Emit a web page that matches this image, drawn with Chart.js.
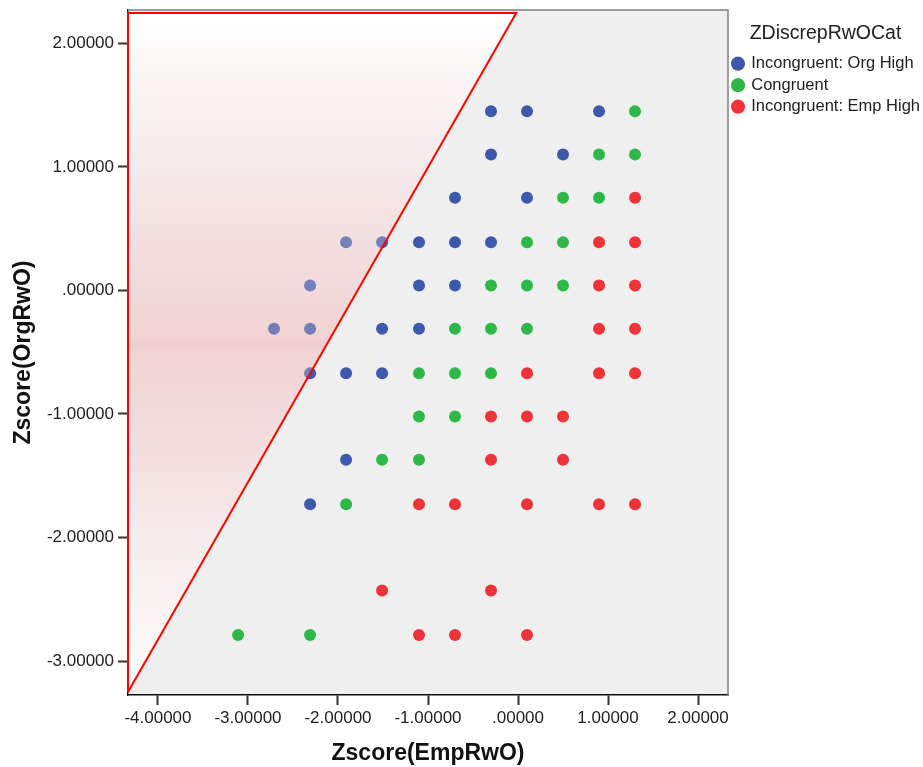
<!DOCTYPE html>
<html>
<head>
<meta charset="utf-8">
<script src="https://cdn.jsdelivr.net/npm/chart.js@4.4.1/dist/chart.umd.min.js"></script>
<style>
  html, body { margin: 0; padding: 0; background: #fff; }
  #wrap { width: 923px; height: 767px; position: relative; }
</style>
</head>
<body>
<div id="wrap"><canvas id="zChart"></canvas></div>
<script>
// Zscore(EmpRwO) on x, Zscore(OrgRwO) on y, one pair of arrays per category
const orgHighX = [-0.30, 0.10, 0.90, -0.30, 0.50, -0.70, 0.10,
  -1.91, -1.51, -1.10, -0.70, -0.30, -2.31, -1.10, -0.70,
  -2.71, -2.31, -1.51, -1.10, -2.31, -1.91, -1.51, -1.91, -2.31];
const orgHighY = [1.45, 1.45, 1.45, 1.10, 1.10, 0.75, 0.75,
  0.39, 0.39, 0.39, 0.39, 0.39, 0.04, 0.04, 0.04,
  -0.31, -0.31, -0.31, -0.31, -0.67, -0.67, -0.67, -1.37, -1.73];

const congruentX = [1.30, 0.90, 1.30, 0.50, 0.90, 0.10, 0.50,
  -0.30, 0.10, 0.50, -0.70, -0.30, 0.10, -1.10, -0.70, -0.30,
  -1.10, -0.70, -1.51, -1.10, -1.91, -3.11, -2.31];
const congruentY = [1.45, 1.10, 1.10, 0.75, 0.75, 0.39, 0.39,
  0.04, 0.04, 0.04, -0.31, -0.31, -0.31, -0.67, -0.67, -0.67,
  -1.02, -1.02, -1.37, -1.37, -1.73, -2.79, -2.79];

const empHighX = [1.30, 0.90, 1.30, 0.90, 1.30, 0.90, 1.30,
  0.10, 0.90, 1.30, -0.30, 0.10, 0.50, -0.30, 0.50,
  -1.10, -0.70, 0.10, 0.90, 1.30, -1.51, -0.30, -1.10, -0.70, 0.10];
const empHighY = [0.75, 0.39, 0.39, 0.04, 0.04, -0.31, -0.31,
  -0.67, -0.67, -0.67, -1.02, -1.02, -1.02, -1.37, -1.37,
  -1.73, -1.73, -1.73, -1.73, -1.73, -2.43, -2.43, -2.79, -2.79, -2.79];

const seriesNames = ['Incongruent: Org High', 'Congruent', 'Incongruent: Emp High'];
const seriesColors = ['#3E58AC', '#2EB848', '#EF3338'];

// reference triangle (corners in data units)
const triX = [-4.333, -4.333, -0.02, -4.333];
const triY = [-3.25, 2.245, 2.245, -3.25];

const xTickValues = [-4, -3, -2, -1, 0, 1, 2];
const xTickLabels = ['-4.00000', '-3.00000', '-2.00000', '-1.00000', '.00000', '1.00000', '2.00000'];
const yTickValues = [-3, -2, -1, 0, 1, 2];
const yTickLabels = ['-3.00000', '-2.00000', '-1.00000', '.00000', '1.00000', '2.00000'];

const FONT = '"Liberation Sans", Arial, sans-serif';

// pink shading inside the triangle, top to bottom
const shadeStops = [
  [0.00, [255, 255, 255]],
  [0.22, [246, 234, 234]],
  [0.34, [243, 223, 223]],
  [0.48, [242, 211, 211]],
  [0.49, [240, 205, 205]],
  [0.50, [242, 211, 211]],
  [0.64, [243, 222, 222]],
  [0.78, [247, 236, 236]],
  [1.00, [255, 254, 254]]
];

function pts(xs, ys) {
  return xs.map((x, i) => ({ x: x, y: ys[i] }));
}

function shade(context, alpha) {
  const chart = context.chart;
  if (!chart.chartArea) return 'rgba(0,0,0,0)';
  const y = chart.scales.y;
  const g = chart.ctx.createLinearGradient(0, y.getPixelForValue(triY[1]), 0, y.getPixelForValue(triY[0]));
  shadeStops.forEach(([p, c]) => g.addColorStop(p, `rgba(${c[0]},${c[1]},${c[2]},${alpha})`));
  return g;
}

const pointSets = [[orgHighX, orgHighY], [congruentX, congruentY], [empHighX, empHighY]];

const datasets = pointSets.map((s, i) => ({
  label: seriesNames[i],
  data: pts(s[0], s[1]),
  backgroundColor: seriesColors[i],
  borderColor: seriesColors[i],
  borderWidth: 0,
  pointRadius: 6,
  pointHoverRadius: 6,
  order: 5
}));

// diagonal edge, filled up to the top edge: opaque under the points, light over them
datasets.push({
  type: 'line', label: 'under', order: 10,
  data: [{ x: triX[0], y: triY[0] }, { x: triX[2], y: triY[2] }],
  fill: { value: triY[1] },
  backgroundColor: c => shade(c, 1),
  borderWidth: 0, pointRadius: 0
});
datasets.push({
  type: 'line', label: 'over', order: 2,
  data: [{ x: triX[0], y: triY[0] }, { x: triX[2], y: triY[2] }],
  fill: { value: triY[1] },
  backgroundColor: c => shade(c, 0.3),
  borderWidth: 0, pointRadius: 0
});
datasets.push({
  type: 'line', label: 'outline', order: 1,
  data: pts(triX, triY),
  fill: false,
  borderColor: '#FF0000',
  borderWidth: 2,
  pointRadius: 0,
  clip: 4
});

const plotFrame = {
  id: 'plotFrame',
  beforeLayout(chart) {
    const lg = chart.legend;
    if (lg && !lg._widthFixed) {
      const fit = lg.fit.bind(lg);
      lg.fit = function () { fit(); this.width = 195; };
      lg._widthFixed = true;
    }
  },
  beforeDraw(chart) {
    const { ctx, chartArea: a } = chart;
    ctx.save();
    ctx.fillStyle = '#EFEFEF';
    ctx.fillRect(a.left, a.top, a.right - a.left, a.bottom - a.top);
    ctx.restore();
  },
  afterDraw(chart) {
    const { ctx, chartArea: a } = chart;
    ctx.save();
    ctx.strokeStyle = '#808080';
    ctx.lineWidth = 1.5;
    ctx.beginPath();
    ctx.moveTo(a.left, a.top);
    ctx.lineTo(a.right, a.top);
    ctx.lineTo(a.right, a.bottom);
    ctx.stroke();
    ctx.restore();
  }
};

new Chart('zChart', {
  type: 'scatter',
  data: { datasets: datasets },
  plugins: [plotFrame],
  options: {
    responsive: true,
    maintainAspectRatio: false,
    devicePixelRatio: 1,
    animation: false,
    layout: { padding: { top: 10, left: 0, right: 0, bottom: 0 } },
    plugins: {
      tooltip: { enabled: false },
      legend: {
        position: 'right',
        align: 'start',
        title: {
          display: true,
          text: 'ZDiscrepRwOCat',
          color: '#222',
          font: { family: FONT, size: 19.5 },
          padding: { top: 14, bottom: 3 }
        },
        labels: {
          filter: item => item.datasetIndex < 3,
          usePointStyle: true,
          pointStyle: 'circle',
          boxWidth: 10,
          boxHeight: 10,
          padding: 5,
          color: '#222',
          font: { family: FONT, size: 16.5 }
        }
      }
    },
    scales: {
      x: {
        type: 'linear',
        min: -4.333,
        max: 2.333,
        afterBuildTicks: s => { s.ticks = xTickValues.map(v => ({ value: v })); },
        afterFit: s => { s.height = 72; },
        ticks: {
          callback: (v, i) => xTickLabels[i],
          color: '#222',
          padding: 3,
          maxRotation: 0,
          font: { family: FONT, size: 17 }
        },
        grid: { drawOnChartArea: false, drawTicks: true, tickLength: 10, tickColor: '#333', tickWidth: 2 },
        border: { color: '#111', width: 1.5 },
        title: {
          display: true,
          text: 'Zscore(EmpRwO)',
          color: '#111',
          padding: { top: 0, bottom: 0 },
          font: { family: FONT, size: 23, weight: 'bold' }
        }
      },
      y: {
        type: 'linear',
        min: -3.275,
        max: 2.27,
        afterBuildTicks: s => { s.ticks = yTickValues.map(v => ({ value: v })); },
        afterFit: s => { s.width = 128; s.paddingTop = 0; s.paddingBottom = 0; },
        ticks: {
          callback: (v, i) => yTickLabels[i],
          color: '#222',
          padding: 4,
          font: { family: FONT, size: 17 }
        },
        grid: { drawOnChartArea: false, drawTicks: true, tickLength: 10, tickColor: '#333', tickWidth: 2 },
        border: { color: '#111', width: 1.5 },
        title: {
          display: true,
          text: 'Zscore(OrgRwO)',
          color: '#111',
          padding: { top: 10, bottom: 0 },
          font: { family: FONT, size: 23, weight: 'bold' }
        }
      }
    }
  }
});
</script>
</body>
</html>
